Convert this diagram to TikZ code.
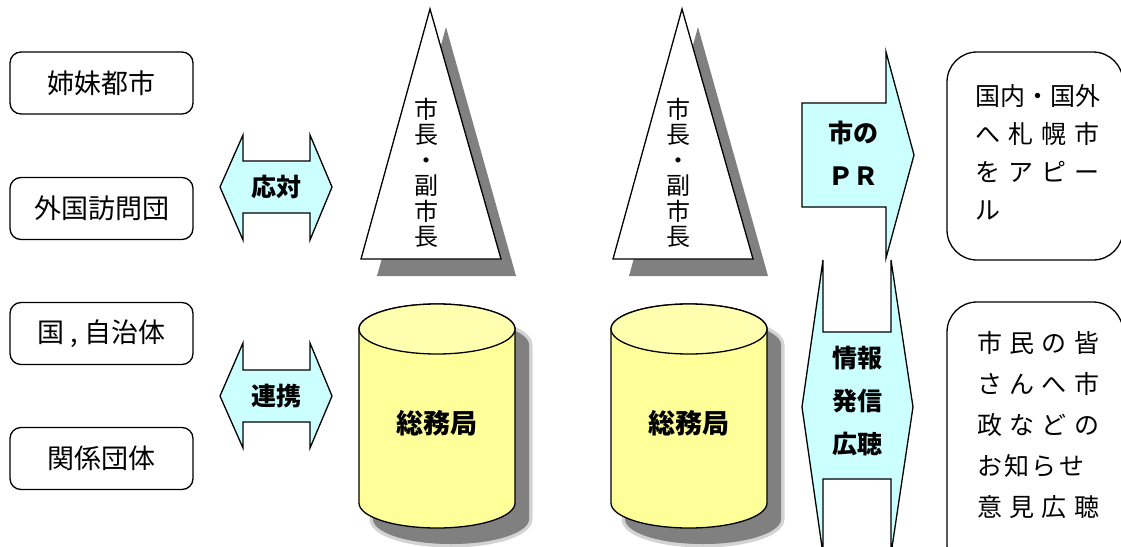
\documentclass[tikz,border=0pt]{standalone}
\usepackage{fontspec}
\setmainfont{Noto Sans CJK JP}
\definecolor{arrowfill}{HTML}{CCFFFF}
\definecolor{cylfill}{HTML}{FFFF99}
\definecolor{cyltop}{HTML}{FFFFB0}
\definecolor{shadowgray}{HTML}{808080}
\newcommand\mycylpath[4]{%
  \path[#4] (#1-78,#2) -- (#1-78,#3)
    arc[start angle=180,end angle=0,x radius=78,y radius=25]
    -- (#1+78,#2)
    arc[start angle=0,end angle=-180,x radius=78,y radius=25] -- cycle;}
\begin{document}
\begin{tikzpicture}[x=1pt,y=-1pt,line join=miter,
  outl/.style={draw=black,line width=1.3pt},
  leftbox/.style={draw=black,line width=1.3pt,rounded corners=11pt,minimum width=183pt,minimum height=62pt,inner sep=0pt,font=\fontsize{27}{30}\selectfont},
  arrowshape/.style={draw=black,line width=1.3pt,fill=arrowfill},
  boldlbl/.style={inner sep=0pt,align=center,font=\bfseries\fontsize{25}{43}\selectfont},
  cyllbl/.style={inner sep=0pt,font=\bfseries\fontsize{27}{30}\selectfont},
  vtext/.style={inner sep=0pt,align=center,font=\fontsize{24}{25.5}\selectfont},
  rtext/.style={inner sep=0pt,align=left,anchor=west},
  shadowfill/.style={fill=shadowgray},
  softshadow/.style={fill=shadowgray,draw=shadowgray,line width=7pt,opacity=0.35}]
\useasboundingbox (0,0) rectangle (1121,546);

% left boxes
\node[leftbox] (b1) at (101.5,83) {姉妹都市};
\node[leftbox] (b2) at (101.5,208.5) {外国訪問団};
\node[leftbox] (b3) at (101.5,333.5) {国 , 自治体};
\node[leftbox] (b4) at (101.5,458.5) {関係団体};

% double arrows
\draw[arrowshape] (220,187) -- (243,135) -- (243,161) -- (310,161) -- (310,135) -- (332,187) -- (310,240) -- (310,213) -- (243,213) -- (243,240) -- cycle;
\node[boldlbl] (otai) at (276,187) {応対};
\draw[arrowshape] (220,396) -- (243,343) -- (243,370) -- (310,370) -- (310,343) -- (332,396) -- (310,448) -- (310,422) -- (243,422) -- (243,448) -- cycle;
\node[boldlbl] (renkei) at (276,396) {連携};

% triangles
\fill[shadowfill] (446,27) -- (377,276) -- (516,276) -- cycle;
\draw[outl,fill=white] (430,9) -- (361,259) -- (501,259) -- cycle;
\node[vtext] (tri1) at (426,173) {市\\長\\・\\副\\市\\長};
\fill[shadowfill] (698,27) -- (629,276) -- (768,276) -- cycle;
\draw[outl,fill=white] (682,9) -- (613,259) -- (753,259) -- cycle;
\node[vtext] (tri2) at (678,173) {市\\長\\・\\副\\市\\長};

% cylinders
\begin{scope}[shift={(14,16)}]
\mycylpath{437}{329}{503}{softshadow}
\mycylpath{689}{329}{503}{softshadow}
\mycylpath{437}{329}{503}{shadowfill}
\mycylpath{689}{329}{503}{shadowfill}
\end{scope}
\mycylpath{437}{329}{503}{outl,fill=cylfill}
\draw[outl,fill=cyltop] (437,329) ellipse[x radius=78,y radius=25];
\node[cyllbl] (cyl1) at (437,423) {総務局};
\mycylpath{689}{329}{503}{outl,fill=cylfill}
\draw[outl,fill=cyltop] (689,329) ellipse[x radius=78,y radius=25];
\node[cyllbl] (cyl2) at (689,423) {総務局};

% PR arrow
\draw[arrowshape] (802,103) -- (886,103) -- (886,52) -- (914,155) -- (886,258) -- (886,207) -- (802,207) -- cycle;
\node[boldlbl] (pr) at (853,153) {市の\\ＰＲ};

% info arrow
\draw[arrowshape] (823,260) -- (823,332) -- (891,332) -- (891,260) -- (913,407) -- (891,554) -- (891,479) -- (823,479) -- (823,554) -- (802,407) -- cycle;
\node[boldlbl] (info) at (857,401) {情報\\発信\\広聴};

% right boxes
\draw[outl,rounded corners=30pt] (947,52) rectangle (1123,260);
\node[rtext,font=\fontsize{25}{38}\selectfont] (r1) at (975,152)
  {国内・国外\\\makebox[124pt][s]{へ\hfill 札\hfill 幌\hfill 市}\\\makebox[124pt][s]{を\hfill ア\hfill ピ\hfill ー}\\ル};
\draw[outl,rounded corners=30pt] (947,302) rectangle (1123,575);
\node[rtext,font=\fontsize{25}{41}\selectfont] (r2) at (977,425)
  {\makebox[122pt][s]{市\hfill 民\hfill の\hfill 皆}\\\makebox[122pt][s]{さ\hfill ん\hfill へ\hfill 市}\\\makebox[122pt][s]{政\hfill な\hfill ど\hfill の}\\\makebox[107pt][s]{お\hfill 知\hfill ら\hfill せ}\\\makebox[122pt][s]{意\hfill 見\hfill 広\hfill 聴}};
\end{tikzpicture}
\end{document}
